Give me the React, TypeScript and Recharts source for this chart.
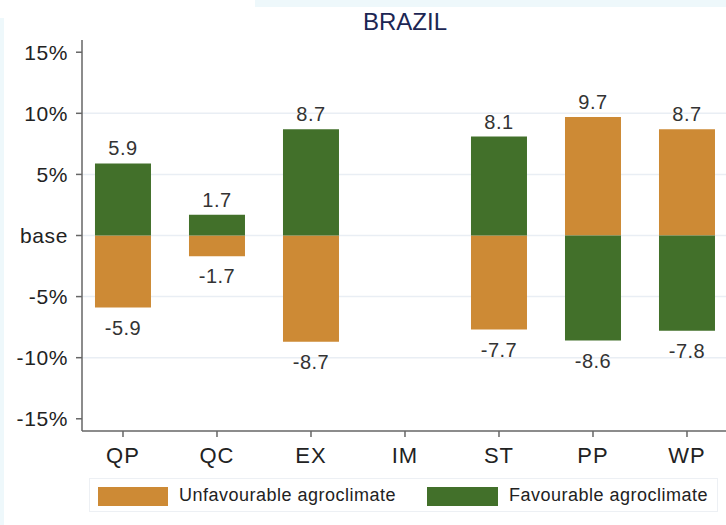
import { Bar, BarChart, CartesianGrid, LabelList, XAxis, YAxis } from 'recharts'

const CATEGORIES = ['QP', 'QC', 'EX', 'IM', 'ST', 'PP', 'WP']
const UNFAVOURABLE = [-5.9, -1.7, -8.7, 0, -7.7, 9.7, 8.7]
const FAVOURABLE = [5.9, 1.7, 8.7, 0, 8.1, -8.6, -7.8]
const Y_TICKS = [-15, -10, -5, 0, 5, 10, 15]
const GRID_VALUES = [-10, -5, 0, 5, 10]

const ORANGE = '#cd8a35'
const GREEN = '#42702a'
const FONT = '"Liberation Sans", Arial, sans-serif'

const chartData = CATEGORIES.map((name, index) => ({
  pos: index,
  name,
  unfav: UNFAVOURABLE[index],
  fav: FAVOURABLE[index],
}))

const renderValueLabel = (props: any) => {
  const { x, y, width, height, value } = props
  const v = Number(value)
  if (!Number.isFinite(v) || v === 0) return null
  const cx = Number(x) + Number(width) / 2
  const y1 = Number(y)
  const y2 = Number(y) + Number(height)
  const top = Math.min(y1, y2)
  const bottom = Math.max(y1, y2)
  return (
    <text
      x={cx}
      y={v > 0 ? top - 8 : bottom + 27}
      textAnchor="middle"
      fill="#333"
      fontSize={20}
      fontFamily={FONT}
      letterSpacing={0.5}
    >
      {v.toFixed(1)}
    </text>
  )
}

export default function App() {
  return (
    <div style={{ position: 'absolute', left: 0, top: 0, width: 726, height: 525, background: '#fff', overflow: 'hidden' }}>
      <div style={{ position: 'absolute', left: 255, top: 0, width: 471, height: 7, background: '#eef8fb' }} />
      <div style={{ position: 'absolute', left: 0, top: 18, width: 4, height: 507, background: '#eef8fb' }} />
      <div
        style={{
          position: 'absolute',
          left: 305,
          top: 8,
          width: 200,
          textAlign: 'center',
          fontFamily: FONT,
          fontSize: 24,
          color: '#1c2653',
          lineHeight: '28px',
        }}
      >
        BRAZIL
      </div>
      <BarChart
        width={726}
        height={525}
        data={chartData}
        stackOffset="sign"
        margin={{ top: 40, right: 0, bottom: 0, left: 0 }}
        style={{ position: 'absolute', left: 0, top: 0 }}
      >
        <CartesianGrid vertical={false} horizontalValues={GRID_VALUES} stroke="#e9eef4" strokeWidth={1.5} />
        <XAxis
          dataKey="pos"
          type="number"
          domain={[-0.436, 6.415]}
          ticks={[0, 1, 2, 3, 4, 5, 6]}
          allowDataOverflow
          tickFormatter={(value) => CATEGORIES[Number(value)] ?? ''}
          height={94}
          tickSize={6}
          tickMargin={10}
          stroke="#666"
          strokeWidth={1.5}
          tick={{ fontSize: 22, fill: '#222', fontFamily: FONT, letterSpacing: 1 }}
        />
        <YAxis
          type="number"
          domain={[-16, 16]}
          ticks={Y_TICKS}
          allowDataOverflow
          width={82}
          tickSize={6}
          tickMargin={8}
          stroke="#666"
          strokeWidth={1.5}
          tickFormatter={(value) => (Number(value) === 0 ? 'base' : `${value}%`)}
          tick={{ fontSize: 21, fill: '#222', fontFamily: FONT, letterSpacing: 0.6 }}
        />
        <Bar dataKey="unfav" stackId="s" fill={ORANGE} barSize={56} isAnimationActive={false}>
          <LabelList dataKey="unfav" content={renderValueLabel} />
        </Bar>
        <Bar dataKey="fav" stackId="s" fill={GREEN} barSize={56} isAnimationActive={false}>
          <LabelList dataKey="fav" content={renderValueLabel} />
        </Bar>
      </BarChart>
      <div
        style={{
          position: 'absolute',
          left: 89,
          top: 478,
          width: 629,
          height: 34,
          border: '1px solid #edf0f4',
          boxSizing: 'border-box',
          fontFamily: FONT,
          fontSize: 18,
          color: '#222',
        }}
      >
        <span style={{ position: 'absolute', left: 8, top: 8, width: 70, height: 19, background: ORANGE }} />
        <span style={{ position: 'absolute', left: 89, top: 5, lineHeight: '22px', letterSpacing: 0.5 }}>
          Unfavourable agroclimate
        </span>
        <span style={{ position: 'absolute', left: 337, top: 8, width: 71, height: 19, background: GREEN }} />
        <span style={{ position: 'absolute', left: 419, top: 5, lineHeight: '22px', letterSpacing: 0.5 }}>
          Favourable agroclimate
        </span>
      </div>
    </div>
  )
}
